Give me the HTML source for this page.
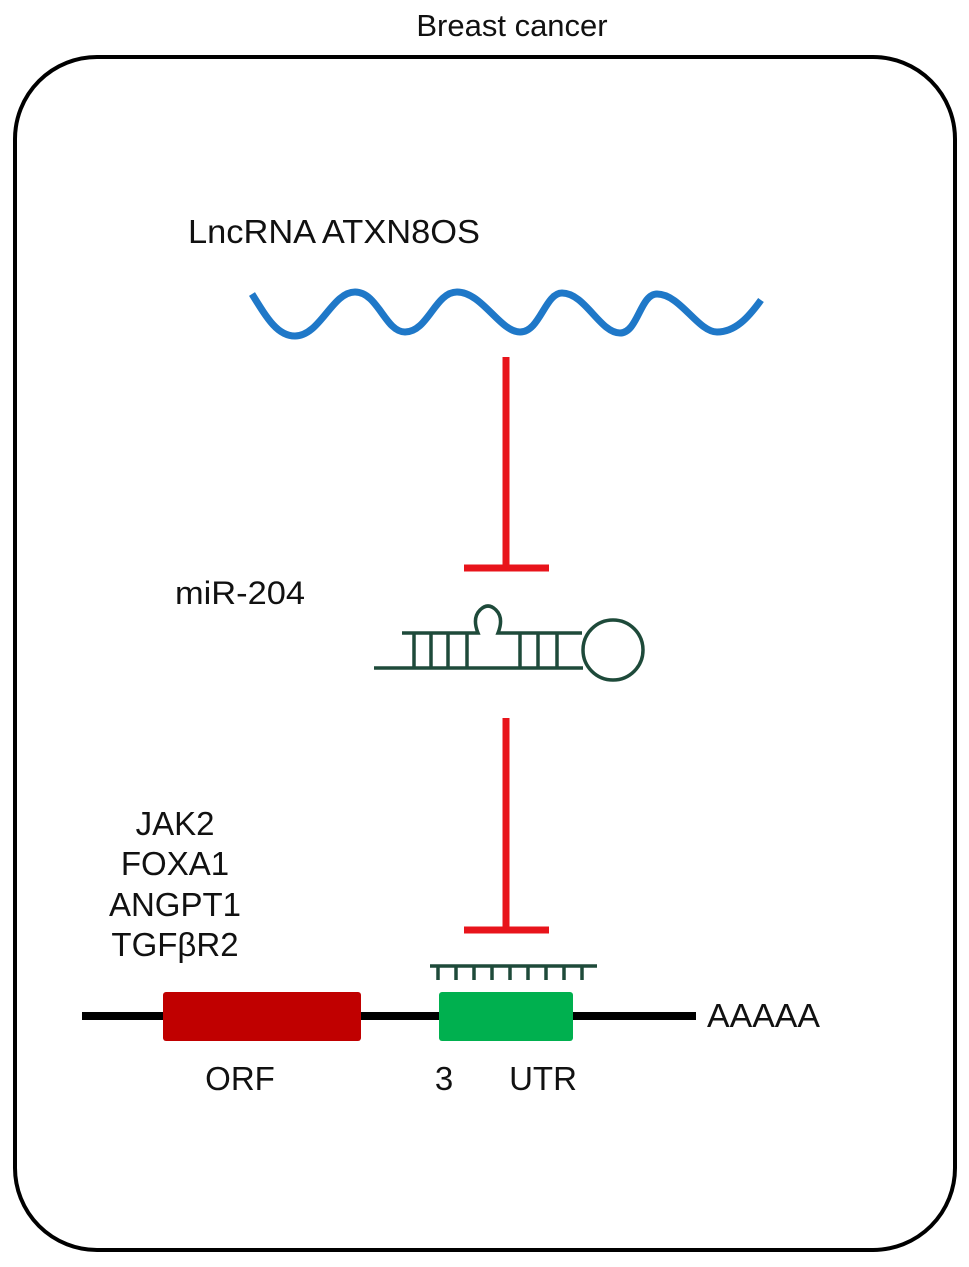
<!DOCTYPE html>
<html><head><meta charset="utf-8"><style>body{margin:0;background:#fff}svg{display:block}text{font-family:"Liberation Sans",sans-serif;fill:#111}</style></head><body>
<svg width="969" height="1267" viewBox="0 0 969 1267" xmlns="http://www.w3.org/2000/svg">
<rect x="15" y="57" width="940" height="1193" rx="82" fill="none" stroke="#000" stroke-width="4"/>
<text x="512" y="36" font-size="31" text-anchor="middle">Breast cancer</text>
<text x="188" y="243" font-size="33" textLength="292" lengthAdjust="spacingAndGlyphs">LncRNA ATXN8OS</text>
<path d="M252 294 C268 320 278 336 295 336 C320 336 332 292 355 292 C378 292 385 332 405 332 C428 332 435 292 457 292 C482 292 500 332 520 332 C540 332 545 293 562 293 C585 293 600 333 620 333 C638 333 640 294 657 294 C680 294 698 332 717 332 C735 332 748 318 761 300" fill="none" stroke="#1f78c8" stroke-width="7"/>
<g stroke="#e8141b" stroke-width="7" fill="none">
<line x1="506" y1="357" x2="506" y2="568"/><line x1="464" y1="568" x2="549" y2="568"/>
<line x1="506" y1="718" x2="506" y2="930"/><line x1="464" y1="930" x2="549" y2="930"/>
</g>
<text x="175" y="604" font-size="32" textLength="130" lengthAdjust="spacingAndGlyphs">miR-204</text>
<g stroke="#1e4a3a" stroke-width="3.5" fill="none">
<line x1="374" y1="668" x2="583" y2="668"/>
<path d="M402 633 L478 633 Q472 618 480 610 Q488 602 496 610 Q504 618 498 633 L582 633"/>
<circle cx="613" cy="650" r="30"/>
<line x1="414" y1="633" x2="414" y2="668"/><line x1="431" y1="633" x2="431" y2="668"/><line x1="448" y1="633" x2="448" y2="668"/><line x1="467" y1="633" x2="467" y2="668"/>
<line x1="520" y1="633" x2="520" y2="668"/><line x1="538" y1="633" x2="538" y2="668"/><line x1="557" y1="633" x2="557" y2="668"/>
</g>
<g font-size="33" text-anchor="middle"><text x="175" y="835">JAK2</text><text x="175" y="875">FOXA1</text><text x="175" y="916">ANGPT1</text><text x="175" y="956">TGFβR2</text></g>
<g stroke="#1e4a3a" stroke-width="3.5">
<line x1="430" y1="966" x2="597" y2="966"/>
<line x1="438" y1="966" x2="438" y2="980"/><line x1="456" y1="966" x2="456" y2="980"/><line x1="474" y1="966" x2="474" y2="980"/><line x1="492" y1="966" x2="492" y2="980"/><line x1="510" y1="966" x2="510" y2="980"/><line x1="528" y1="966" x2="528" y2="980"/><line x1="546" y1="966" x2="546" y2="980"/><line x1="564" y1="966" x2="564" y2="980"/><line x1="582" y1="966" x2="582" y2="980"/>
</g>
<line x1="82" y1="1016" x2="696" y2="1016" stroke="#000" stroke-width="8"/>
<rect x="163" y="992" width="198" height="49" rx="3" fill="#c00000"/>
<rect x="439" y="992" width="134" height="49" rx="3" fill="#00b04f"/>
<text x="707" y="1027" font-size="33" textLength="113" lengthAdjust="spacingAndGlyphs">AAAAA</text>
<text x="240" y="1090" font-size="33" text-anchor="middle">ORF</text>
<text x="444" y="1090" font-size="33" text-anchor="middle">3</text>
<text x="543" y="1090" font-size="33" text-anchor="middle">UTR</text>
</svg>
</body></html>
